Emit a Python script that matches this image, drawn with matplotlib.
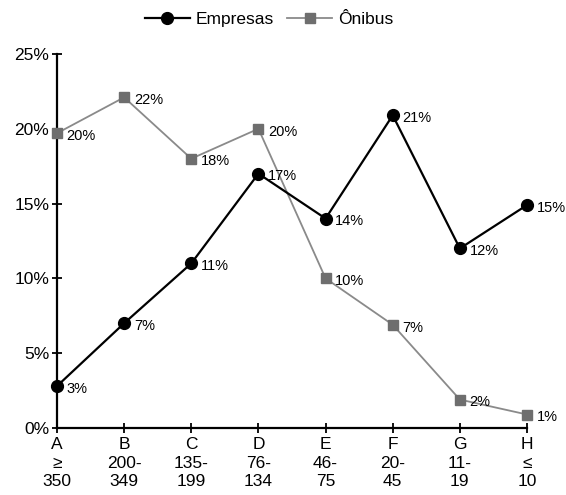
import numpy as np
import matplotlib
matplotlib.use("Agg")
import matplotlib.pyplot as plt

categories = ["A\n≥\n350", "B\n200-\n349", "C\n135-\n199", "D\n76-\n134",
              "E\n46-\n75", "F\n20-\n45", "G\n11-\n19", "H\n≤\n10"]
empresas = [2.8, 7.0, 11.0, 17.0, 14.0, 20.9, 12.0, 14.9]
onibus = [19.7, 22.1, 18.0, 20.0, 10.0, 6.9, 1.9, 0.9]

plt.rcParams['font.family'] = ['Liberation Sans', 'DejaVu Sans']

fig = plt.figure(figsize=(5.66, 4.95), dpi=100)
ax = fig.add_axes([0.1007, 0.1354, 0.8304, 0.7556])

x = np.arange(len(categories))
ax.plot(x, onibus, color='#8a8a8a', lw=1.3, marker='s', ms=7,
        mfc='#6e6e6e', mec='#6e6e6e', clip_on=False, label='Ônibus', zorder=3)
ax.plot(x, empresas, color='black', lw=1.6, marker='o', ms=8.5,
        clip_on=False, label='Empresas', zorder=4)

for xi, v in zip(x, empresas):
    ax.annotate(f"{v:.0f}%", (xi, v), xytext=(7, -2), textcoords='offset points',
                va='center', ha='left', fontsize=10.5)
for xi, v in zip(x, onibus):
    ax.annotate(f"{v:.0f}%", (xi, v), xytext=(7, -2), textcoords='offset points',
                va='center', ha='left', fontsize=10.5)

ax.set_xlim(0, 7)
ax.set_ylim(0, 25)
ax.set_yticks(np.arange(0, 26, 5))
ax.set_yticklabels([f"{t}%" for t in range(0, 26, 5)], fontsize=12.5)
ax.set_xticks(x)
ax.set_xticklabels(categories, fontsize=12.5, linespacing=1.3)
ax.spines['top'].set_visible(False)
ax.spines['right'].set_visible(False)
ax.spines['left'].set_linewidth(1.6)
ax.spines['bottom'].set_linewidth(1.6)
ax.tick_params(axis='both', direction='inout', length=7, width=1.3)
ax.tick_params(axis='x', pad=3)
ax.tick_params(axis='y', pad=2)

h, l = ax.get_legend_handles_labels()
fig.legend(h[::-1], l[::-1], loc='upper center', bbox_to_anchor=(0.475, 1.008),
           ncol=2, frameon=False, fontsize=12.5, handlelength=2.6,
           columnspacing=0.8, handletextpad=0.3)

fig.savefig("out.png", dpi=100)
